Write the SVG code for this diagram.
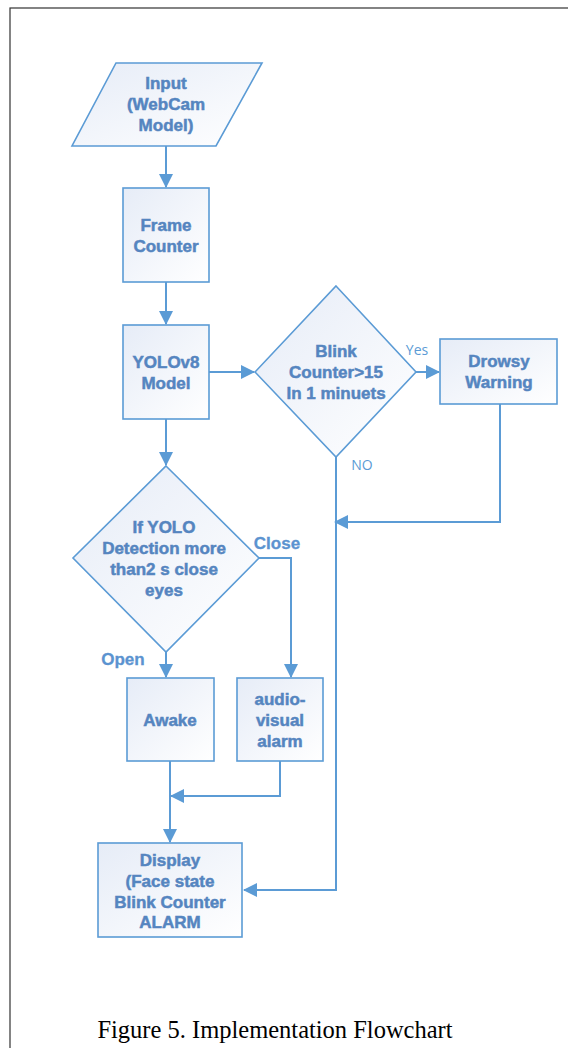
<svg xmlns="http://www.w3.org/2000/svg" width="568" height="1048" viewBox="0 0 568 1048">
<defs>
<linearGradient id="g" x1="0" y1="0" x2="1" y2="1">
<stop offset="0" stop-color="#e6ecf7"/>
<stop offset="1" stop-color="#ffffff"/>
</linearGradient>
<marker id="ah" markerUnits="userSpaceOnUse" markerWidth="14" markerHeight="14" viewBox="0 0 14 14" refX="13" refY="7" orient="auto">
<path d="M0,0 L14,7 L0,14 Z" fill="#5b9bd5"/>
</marker>
<style>
.shape{fill:url(#g);stroke:#5b9bd5;stroke-width:1.6}
.t{font-family:"Liberation Sans",Arial,sans-serif;font-weight:bold;font-size:17px;fill:#5585c0;text-anchor:middle;stroke:#5585c0;stroke-width:0.5}
.lb{font-family:"Liberation Sans",Arial,sans-serif;font-weight:bold;font-size:17px;fill:#5b93d0;stroke:#5b93d0;stroke-width:0.3}
.ln{font-family:"Open Sans","Liberation Sans",sans-serif;font-size:14px;fill:#5b9bd5}
.c{fill:none;stroke:#5b9bd5;stroke-width:2}
.cap{font-family:"Liberation Serif","Times New Roman",serif;font-size:24.5px;fill:#000;text-anchor:middle}
</style>
</defs>
<rect width="568" height="1048" fill="#ffffff"/>
<rect x="10" y="8" width="600" height="1100" fill="none" stroke="#333" stroke-width="1.2"/>

<g id="connectors">
<path class="c" d="M166,146 L166,187" marker-end="url(#ah)"/>
<path class="c" d="M166,282 L166,324" marker-end="url(#ah)"/>
<path class="c" d="M209,372 L254,372" marker-end="url(#ah)"/>
<path class="c" d="M416,372 L439,372" marker-end="url(#ah)"/>
<path class="c" d="M500,404 L500,522 L335,522" marker-end="url(#ah)"/>
<path class="c" d="M336,457 L336,890 L244,890" marker-end="url(#ah)"/>
<path class="c" d="M166,419 L166,465" marker-end="url(#ah)"/>
<path class="c" d="M259,558 L291,558 L291,677" marker-end="url(#ah)"/>
<path class="c" d="M166,652 L166,677" marker-end="url(#ah)"/>
<path class="c" d="M170,761 L170,842" marker-end="url(#ah)"/>
<path class="c" d="M280,761 L280,796 L171,796" marker-end="url(#ah)"/>
</g>

<g id="input">
<polygon class="shape" points="116,63 262,63 216,146 72,146"/>
<text class="t" x="166" y="89">Input</text>
<text class="t" x="166" y="110">(WebCam</text>
<text class="t" x="166" y="131">Model)</text>
</g>

<g id="frame-counter">
<rect class="shape" x="123" y="188" width="86" height="94"/>
<text class="t" x="166" y="231">Frame</text>
<text class="t" x="166" y="252">Counter</text>
</g>

<g id="yolo">
<rect class="shape" x="123" y="325" width="86" height="94"/>
<text class="t" x="166" y="368">YOLOv8</text>
<text class="t" x="166" y="389">Model</text>
</g>

<g id="blink-decision">
<polygon class="shape" points="336,286 416,372 336,457 255,372"/>
<text class="t" x="336" y="357">Blink</text>
<text class="t" x="336" y="378">Counter&gt;15</text>
<text class="t" x="336" y="399">In 1 minuets</text>
<text class="ln" x="417" y="355" text-anchor="middle">Yes</text>
<text class="ln" x="362" y="470" text-anchor="middle">NO</text>
</g>

<g id="drowsy">
<rect class="shape" x="440" y="339" width="117" height="65"/>
<text class="t" x="499" y="367">Drowsy</text>
<text class="t" x="499" y="388">Warning</text>
</g>

<g id="yolo-decision">
<polygon class="shape" points="166,466 259,558 166,652 73,558"/>
<text class="t" x="164" y="533">If YOLO</text>
<text class="t" x="164" y="554">Detection more</text>
<text class="t" x="164" y="575">than2 s close</text>
<text class="t" x="164" y="596">eyes</text>
<text class="lb" x="277" y="549" text-anchor="middle">Close</text>
<text class="lb" x="123" y="665" text-anchor="middle">Open</text>
</g>

<g id="awake">
<rect class="shape" x="127" y="678" width="87" height="83"/>
<text class="t" x="170" y="726">Awake</text>
</g>

<g id="alarm">
<rect class="shape" x="237" y="678" width="86" height="83"/>
<text class="t" x="280" y="705">audio-</text>
<text class="t" x="280" y="726">visual</text>
<text class="t" x="280" y="747">alarm</text>
</g>

<g id="display">
<rect class="shape" x="98" y="843" width="144" height="94"/>
<text class="t" x="170" y="866">Display</text>
<text class="t" x="170" y="887">(Face state</text>
<text class="t" x="170" y="908">Blink Counter</text>
<text class="t" x="170" y="928">ALARM</text>
</g>

<text class="cap" x="275" y="1038">Figure 5. Implementation Flowchart</text>
</svg>
